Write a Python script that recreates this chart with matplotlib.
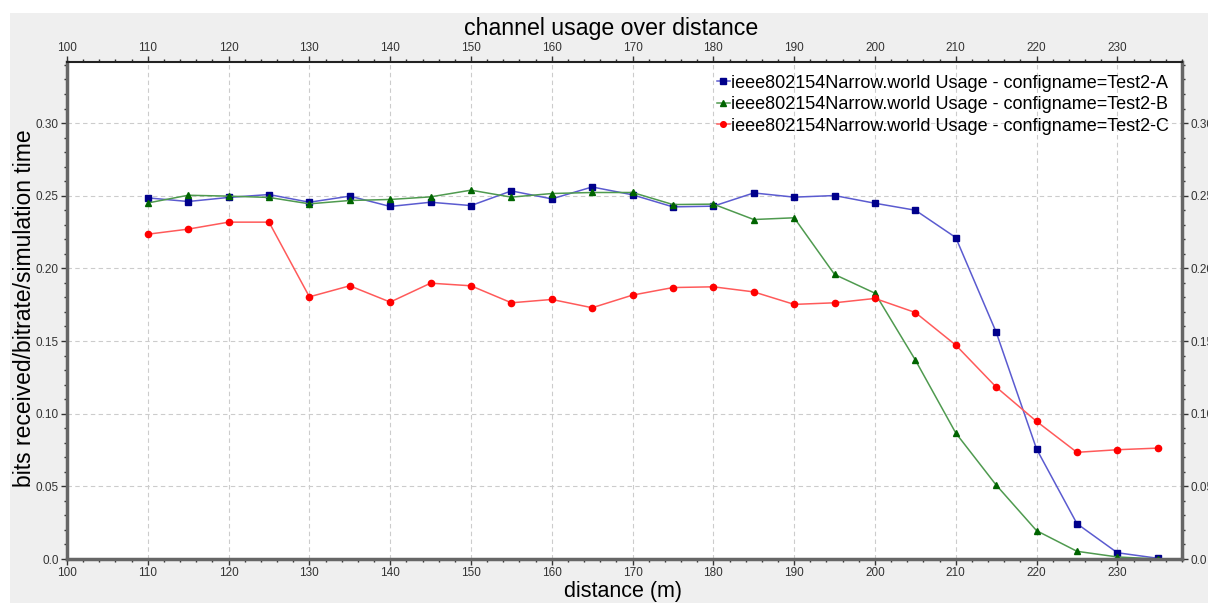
import matplotlib
matplotlib.use("Agg")
import matplotlib.pyplot as plt
from matplotlib.patches import Rectangle
from matplotlib.ticker import MultipleLocator, FixedFormatter, FixedLocator

plt.rcParams['font.family'] = ['Liberation Sans', 'DejaVu Sans']

distance = [110, 115, 120, 125, 130, 135, 140, 145, 150, 155, 160, 165, 170,
            175, 180, 185, 190, 195, 200, 205, 210, 215, 220, 225, 230, 235]

usage_a = [0.2485, 0.246, 0.2488, 0.2508, 0.2455, 0.2497, 0.2426, 0.2455, 0.2432,
           0.2533, 0.2478, 0.256, 0.2506, 0.2423, 0.2428, 0.2519, 0.249, 0.2501,
           0.2448, 0.240, 0.2212, 0.1561, 0.0757, 0.0243, 0.0043, 0.0005]
usage_b = [0.245, 0.2503, 0.2497, 0.2488, 0.2444, 0.2467, 0.2474, 0.2492, 0.2538,
           0.249, 0.2515, 0.2522, 0.2522, 0.2439, 0.2442, 0.2336, 0.2348, 0.1958,
           0.1829, 0.1369, 0.0867, 0.0509, 0.0195, 0.0053, 0.0014, 0.0]
usage_c = [0.2235, 0.227, 0.2318, 0.2318, 0.1804, 0.188, 0.1768, 0.1898, 0.188,
           0.1763, 0.1786, 0.1729, 0.1816, 0.1868, 0.1873, 0.1838, 0.1752, 0.1763,
           0.1793, 0.1696, 0.1472, 0.1183, 0.0947, 0.0734, 0.0752, 0.0763]

labels = ["ieee802154Narrow.world Usage - configname=Test2-A",
          "ieee802154Narrow.world Usage - configname=Test2-B",
          "ieee802154Narrow.world Usage - configname=Test2-C"]

y_ticks = [0.0, 0.05, 0.10, 0.15, 0.20, 0.25, 0.30]
y_tick_labels = ["0.0", "0.05", "0.10", "0.15", "0.20", "0.25", "0.30"]

fig = plt.figure(figsize=(12.08, 6.03), dpi=100)
fig.patch.set_facecolor('white')
fig.patches.append(Rectangle((10 / 1208, 0), 1, 1 - 13 / 603, transform=fig.transFigure,
                             facecolor='#efefef', edgecolor='none', zorder=-10))

ax = fig.add_axes([67 / 1208, 1 - 559 / 603, (1182 - 67) / 1208, (559 - 62) / 603])
ax.set_facecolor('white')

ax.plot(distance, usage_a, color='#5b5bd0', lw=1.1, marker='s', ms=4.5,
        mfc='#00008b', mec='#00008b', label=labels[0])
ax.plot(distance, usage_b, color='#4f9a4f', lw=1.1, marker='^', ms=4.5,
        mfc='#006400', mec='#006400', label=labels[1])
ax.plot(distance, usage_c, color='#ff5a5a', lw=1.1, marker='o', ms=4.5,
        mfc='#ff0000', mec='#ff0000', label=labels[2])

ax.set_xlim(100, 238)
ax.set_ylim(0, 0.342)
ax.xaxis.set_major_locator(MultipleLocator(10))
ax.xaxis.set_minor_locator(MultipleLocator(2))
ax.yaxis.set_major_locator(FixedLocator(y_ticks))
ax.yaxis.set_major_formatter(FixedFormatter(y_tick_labels))
ax.yaxis.set_minor_locator(MultipleLocator(0.01))

ax.tick_params(which='both', direction='out', top=True, right=True,
               labeltop=True, labelright=True, labelsize=8.5, colors='#333333',
               pad=2)
ax.tick_params(which='major', length=4, width=1)
ax.tick_params(which='minor', length=2.5, width=1)

ax.grid(True, which='major', color='#cccccc', linestyle=(0, (4, 3)), lw=0.8)
ax.set_axisbelow(True)

for side in ['left', 'bottom', 'right']:
    ax.spines[side].set_color('#666666')
    ax.spines[side].set_linewidth(2.5)
ax.spines['top'].set_color('#222222')
ax.spines['top'].set_linewidth(1.5)

fig.text(611 / 1208, 1 - 28 / 603, "channel usage over distance", fontsize=16.7,
         ha='center', va='center')
fig.text(623 / 1208, 1 - 592 / 603, "distance (m)", fontsize=15.5,
         ha='center', va='center')
ax.set_ylabel("bits received/bitrate/simulation time", fontsize=16.5)
ax.yaxis.set_label_coords(-0.028, 0.505)

ax.legend(loc='upper right', frameon=False, fontsize=13, handlelength=0.7,
          handletextpad=0.1, labelspacing=0.25, borderaxespad=0.3,
          markerscale=0.9)

fig.savefig("out.png", dpi=100, facecolor=fig.get_facecolor())
